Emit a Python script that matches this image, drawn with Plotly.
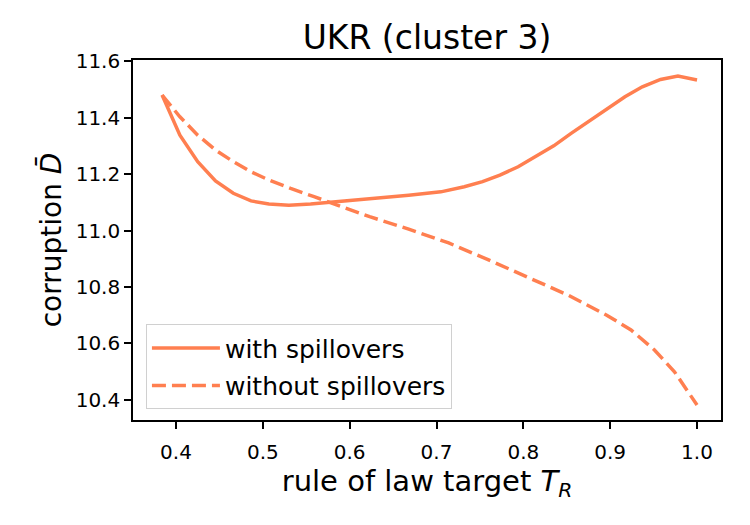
import plotly.graph_objects as go

# Data
x_with = [0.384, 0.4045, 0.425, 0.4455, 0.466, 0.4864, 0.507, 0.53, 0.555, 0.586, 0.623,
          0.668, 0.705, 0.732, 0.753, 0.773, 0.794, 0.814, 0.835, 0.855, 0.876, 0.896,
          0.917, 0.937, 0.958, 0.978, 1.0]
y_with = [11.48, 11.338, 11.244, 11.176, 11.132, 11.105, 11.094, 11.09, 11.094, 11.102, 11.112,
          11.125, 11.137, 11.155, 11.173, 11.196, 11.226, 11.261, 11.30, 11.344, 11.389, 11.432,
          11.474, 11.509, 11.535, 11.547, 11.533]

x_without = [0.384, 0.4045, 0.425, 0.4455, 0.466, 0.4864, 0.507, 0.532, 0.559, 0.586, 0.623,
             0.668, 0.714, 0.76, 0.805, 0.851, 0.896, 0.924, 0.951, 0.974, 1.0]
y_without = [11.48, 11.403, 11.338, 11.285, 11.244, 11.208, 11.179, 11.149, 11.12, 11.09, 11.049,
             11.005, 10.956, 10.896, 10.836, 10.772, 10.70, 10.648, 10.577, 10.50, 10.382]

x_ticks = [0.4, 0.5, 0.6, 0.7, 0.8, 0.9, 1.0]
y_ticks = [10.4, 10.6, 10.8, 11.0, 11.2, 11.4, 11.6]

color = "#FF7F50"
font = "DejaVu Sans"

fig = go.Figure()
fig.add_trace(go.Scatter(x=x_with, y=y_with, mode="lines", name="with spillovers",
                         legendgroup="a",
                         line=dict(color=color, width=3.5)))
fig.add_trace(go.Scatter(x=x_without, y=y_without, mode="lines", name="without spillovers",
                         legendgroup="b",
                         line=dict(color=color, width=3.5, dash="14px,6px")))

fig.update_layout(
    width=750, height=525,
    margin=dict(l=133, r=29, t=60, b=105),
    paper_bgcolor="white", plot_bgcolor="white",
    font=dict(family=font, color="black"),
    title=dict(text="UKR (cluster 3)", x=(133 + 721) / 2 / 750, xanchor="center",
               y=1 - 37 / 525, yanchor="middle", font=dict(size=33, family=font)),
    showlegend=True,
    legend=dict(x=0.022, y=0.03, xanchor="left", yanchor="bottom",
                bgcolor="rgba(255,255,255,0.8)", bordercolor="#d0d0d0", borderwidth=1,
                font=dict(size=25, family=font), tracegroupgap=2, itemwidth=68),
)
fig.update_xaxes(
    range=[0.3505, 1.0276], tickvals=x_ticks, ticktext=[f"{v:.1f}" for v in x_ticks],
    showline=True, linecolor="black", linewidth=1.6, mirror=True,
    ticks="outside", ticklen=7, tickwidth=1.6, tickcolor="black",
    showgrid=False, zeroline=False, tickfont=dict(size=20, family=font),
    ticklabelstandoff=6,
    title=dict(text="rule of law target <i>T</i><sub><i>R</i></sub>", font=dict(size=29, family=font),
               standoff=8),
)
fig.update_yaxes(
    range=[10.329, 11.604], tickvals=y_ticks, ticktext=[f"{v:.1f}" for v in y_ticks],
    showline=True, linecolor="black", linewidth=1.6, mirror=True,
    ticks="outside", ticklen=7, tickwidth=1.6, tickcolor="black",
    showgrid=False, zeroline=False, tickfont=dict(size=20, family=font),
    title=dict(text="corruption <i>D\u0304</i>", font=dict(size=28, family=font), standoff=6),
)

fig.write_html("out.html")
